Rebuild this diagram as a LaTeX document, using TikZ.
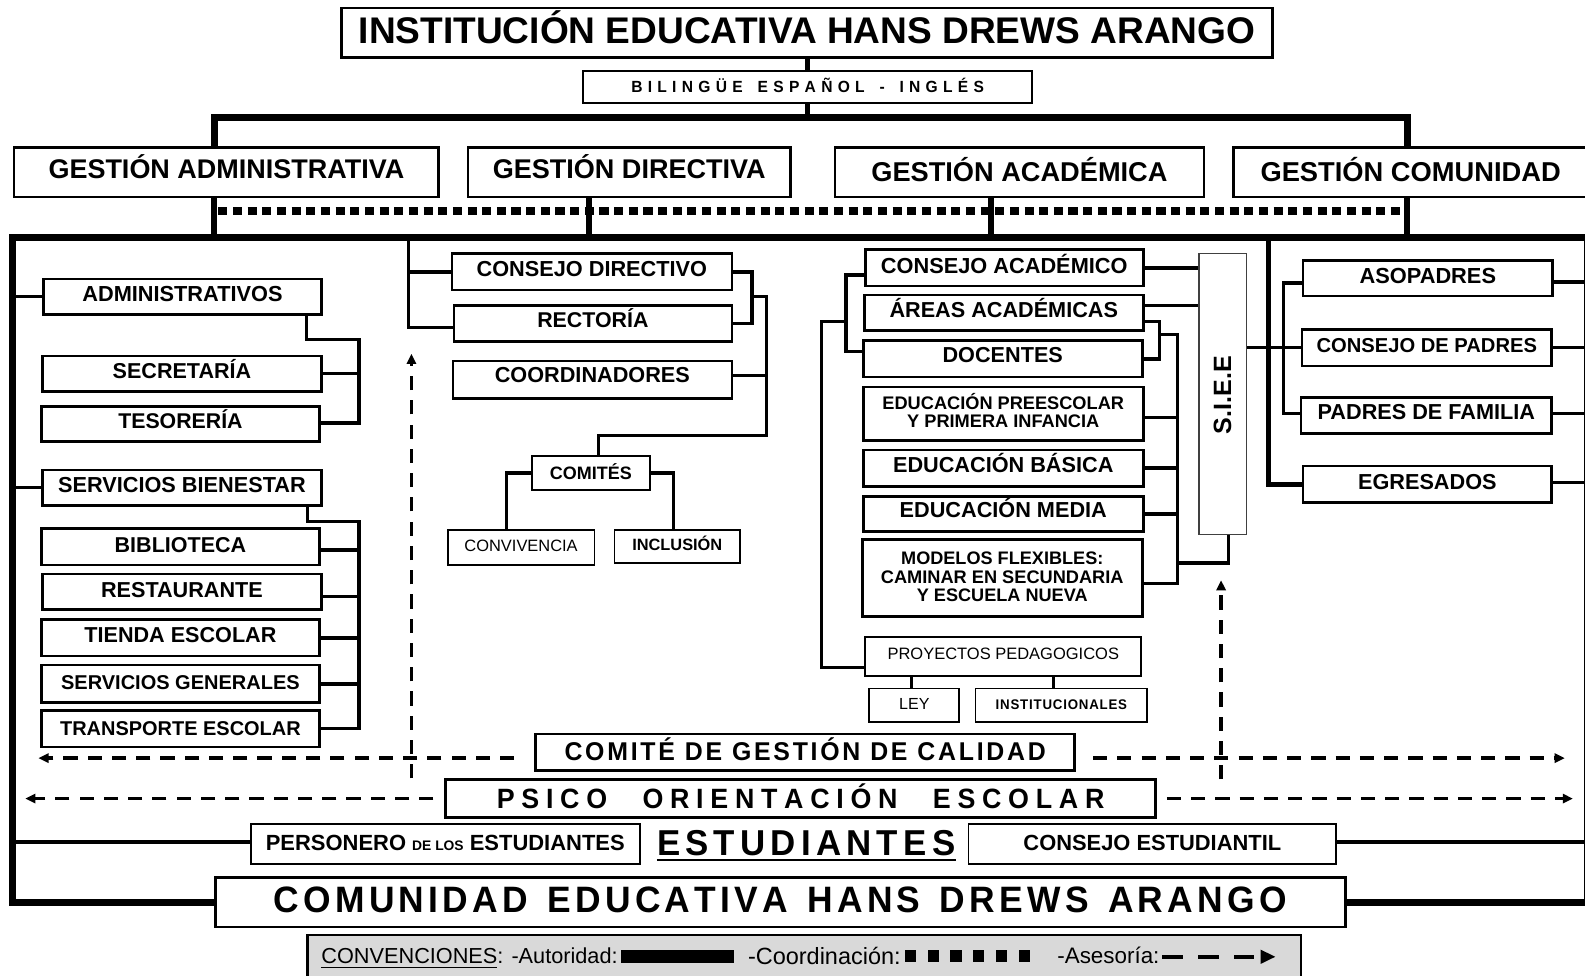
\documentclass[tikz,border=0pt]{standalone}
\usepackage{fontspec}
\setmainfont{Liberation Sans}
\usepackage{graphicx}
\usetikzlibrary{arrows.meta}
\makeatletter
\newcommand\lsw[2]{\def\lsw@k{#1}\@tfor\lsw@t:=#2\do{\lsw@t\kern\lsw@k}\unkern}
\makeatother
\newcommand\fw[2]{\resizebox{#1pt}{!}{\smash{#2}\vphantom{H}}}
\newcommand\fwh[3]{\resizebox{#1pt}{#2pt}{\smash{#3}\vphantom{H}}}
\newcommand\up[2]{\raisebox{#1pt}[\height][\depth]{#2}}
\newcommand\rows[1]{{\renewcommand\arraystretch{0}\begin{tabular}{@{}c@{}}#1\end{tabular}}}
\begin{document}
\begin{tikzpicture}[x=1pt,y=-1pt,
  box/.style={draw, line width=2.6pt, inner sep=0pt, font=\bfseries},
  tbox/.style={draw, line width=1.7pt, inner sep=0pt, font=\bfseries},
  corners/.style args={#1/#2/#3/#4}{minimum width={#3-#1}, minimum height={#4-#2}, at={({(#1+#3)/2},{(#2+#4)/2})}},
  conn/.style={line width=3.3pt},
  authl/.style={line width=7pt},
  vert/.style={line width=6pt},
  framel/.style={line width=7pt, line join=miter},
  coordl/.style={line width=7.5pt, dash pattern=on 9pt off 5.5pt},
  asel/.style={line width=3.5pt, dash pattern=on 14pt off 10pt, -{Triangle[length=10pt,width=9pt]}}]
\useasboundingbox (0,0) rectangle (1568,964.6);

% ---------- top ----------
\node[box, corners=338/8/1259/57] (title) {\up{2}{\fw{887}{INSTITUCIÓN EDUCATIVA HANS DREWS ARANGO}}};
\node[box, line width=2.2pt, corners=577/70/1021/102] (bil) {\fwh{349}{11}{\lsw{0.34em}{BILINGÜE}\hspace{0.95em}\lsw{0.34em}{ESPAÑOL}\hspace{0.95em}-\hspace{0.95em}\lsw{0.34em}{INGLÉS}}};
\node[box, corners=14/146/434/195] (adm) {\up{3.5}{\fw{352}{GESTIÓN ADMINISTRATIVA}}};
\node[box, corners=463/146/782/195] (dir) {\up{3.5}{\fw{270}{GESTIÓN DIRECTIVA}}};
\node[box, corners=826/146/1191/195] (aca) {\up{0.5}{\fw{293}{GESTIÓN ACADÉMICA}}};
\node[box, corners=1220/146/1571/195] (com) {\up{0.5}{\fw{297}{GESTIÓN COMUNIDAD}}};

% ---------- left column ----------
\node[box, corners=43/276/318/311] (admv) {\up{3}{\fw{198}{ADMINISTRATIVOS}}};
\node[box, corners=42/352/318/387] (secr) {\up{2.5}{\fw{137}{SECRETARÍA}}};
\node[box, corners=41/402/316/437] (teso) {\up{2.5}{\fw{123}{TESORERÍA}}};
\node[box, corners=42/465/318/500] (serv) {\up{3}{\fw{245}{SERVICIOS BIENESTAR}}};
\node[box, corners=41/523/316/559] (bibl) {\up{2}{\fw{130}{BIBLIOTECA}}};
\node[box, corners=42/568/318/603] (rest) {\up{2}{\fw{160}{RESTAURANTE}}};
\node[box, corners=41/613/316/649] (tien) {\up{2.5}{\fw{190}{TIENDA ESCOLAR}}};
\node[box, corners=41/658/316/695] (sgen) {\up{1.5}{\fw{236}{SERVICIOS GENERALES}}};
\node[box, corners=41/703/316/739] (tran) {\up{0.5}{\fw{238}{TRANSPORTE ESCOLAR}}};

% ---------- middle column ----------
\node[box, corners=447/251/724/287] (cd) {\up{2.5}{\fw{228}{CONSEJO DIRECTIVO}}};
\node[box, corners=449/302/724/338] (rect) {\up{3}{\fw{110}{RECTORÍA}}};
\node[box, corners=448/357/724/394] (coor) {\up{4}{\fw{193}{COORDINADORES}}};
\node[tbox, corners=526/451/643/485] (comi) {\fw{81}{COMITÉS}};
\node[tbox, font=\normalfont, corners=443/524/588/559] (conv) {\up{1.5}{\fw{112}{CONVIVENCIA}}};
\node[tbox, corners=608/524/732/557] (incl) {\up{1.5}{\fw{89}{INCLUSIÓN}}};

% ---------- academic column ----------
\node[box, corners=856/247/1131/283] (ca) {\up{2}{\fw{244}{CONSEJO ACADÉMICO}}};
\node[box, corners=855/292/1131/327] (ar) {\up{2.5}{\fw{226}{ÁREAS ACADÉMICAS}}};
\node[box, corners=854/337/1130/373] (doc) {\up{3.5}{\fw{119}{DOCENTES}}};
\node[box, corners=854/383/1131/436] (pre) {\up{1.5}{\rows{\fw{239}{EDUCACIÓN PREESCOLAR}\\[5pt]\fw{190}{Y PRIMERA INFANCIA}}}};
\node[box, corners=854/445/1131/481] (bas) {\up{2.5}{\fw{218}{EDUCACIÓN BÁSICA}}};
\node[box, corners=854/491/1131/526] (med) {\up{3.5}{\fw{205}{EDUCACIÓN MEDIA}}};
\node[box, corners=853/534/1130/610] (mod) {\up{1}{\rows{\fw{200}{MODELOS FLEXIBLES:}\\[6pt]\fw{240}{CAMINAR EN SECUNDARIA}\\[6pt]\fw{169}{Y ESCUELA NUEVA}}}};
\node[tbox, font=\normalfont, corners=856/630/1129/669] (proy) {\up{2.5}{\fw{229}{PROYECTOS PEDAGOGICOS}}};
\node[tbox, font=\normalfont, corners=860/681/949/714] (ley) {\up{1.5}{\fw{30}{LEY}}};
\node[tbox, corners=965/681/1135/714] (inst) {\up{0.5}{\fwh{130}{9.5}{\lsw{0.06em}{INSTITUCIONALES}}}};
\node[draw=black!75, line width=1.3pt, inner sep=0pt, font=\bfseries, corners=1186/251/1233/529] (siee) {\up{-1}{\rotatebox{90}{\fw{77}{S.I.E.E}}}};

% ---------- right column ----------
\node[box, corners=1289/258/1536/293] (aso) {\up{2.5}{\fw{135}{ASOPADRES}}};
\node[box, corners=1288/326/1535/362] (cdp) {\up{2}{\fw{218}{CONSEJO DE PADRES}}};
\node[box, corners=1287/393/1535/429] (pdf) {\up{3}{\fw{215}{PADRES DE FAMILIA}}};
\node[box, corners=1289/461/1535/497] (egr) {\up{2.5}{\fw{137}{EGRESADOS}}};

% ---------- bottom ----------
\node[box, corners=530/726/1063/762] (cal) {\fwh{476}{17.5}{\lsw{0.11em}{COMITÉ}\hspace{0.4em}\lsw{0.11em}{DE}\hspace{0.4em}\lsw{0.11em}{GESTIÓN}\hspace{0.4em}\lsw{0.11em}{DE}\hspace{0.4em}\lsw{0.11em}{CALIDAD}}};
\node[box, corners=441/771/1143/809] (psi) {\fwh{601}{19}{\lsw{0.25em}{PSICO}\hspace{1.32em}\lsw{0.25em}{ORIENTACIÓN}\hspace{1.32em}\lsw{0.25em}{ESCOLAR}}};
\node[tbox, corners=248/815/633/855] (pers) {\up{1.5}{\fw{355}{PERSONERO {\fontsize{6.3}{7}\selectfont DE LOS} ESTUDIANTES}}};
\node[inner sep=0pt, font=\bfseries] (estu) at (797.5,834) {\fwh{295}{24.5}{\lsw{0.15em}{ESTUDIANTES}}};
\node[tbox, corners=958/815/1322/855] (cest) {\up{1.5}{\fw{255}{CONSEJO ESTUDIANTIL}}};
\node[box, corners=213/868/1331/917] (comu) {\up{2.5}{\fwh{1002}{25}{\lsw{0.12em}{COMUNIDAD}\hspace{0.55em}\lsw{0.12em}{EDUCATIVA}\hspace{0.55em}\lsw{0.12em}{HANS}\hspace{0.55em}\lsw{0.12em}{DREWS}\hspace{0.55em}\lsw{0.12em}{ARANGO}}}};
\draw[line width=2.5pt] ([yshift=-4.5pt]estu.south west) -- ([yshift=-4.5pt]estu.south east);

% ---------- coordinates ----------
\coordinate (topbar) at (800,116);
\coordinate (fTop) at (800,235);
\coordinate (fTL) at (12,235);
\coordinate (fTR) at (1570,235);
\coordinate (fBL) at (12,893);
\coordinate (fBR) at (1570,893);
\coordinate (fR) at (1570,600);
\coordinate (cdL) at (216,209);
\coordinate (cdR) at (1388,209);

% ---------- authority / coordination ----------
\draw[coordl] (cdL) -- (cdR);
\draw[line width=5pt] (title.south) -- (title.south |- bil.north);
\draw[line width=5pt] (bil.south) -- (bil.south |- topbar);
\draw[authl, line join=miter] ([xshift=-12pt]adm.north) |- (topbar) -| ([xshift=-3.5pt]com.north);
\foreach \n/\s in {adm/-12, dir/-39.5, aca/-28.5, com/-3.5}
  \draw[vert] ([xshift=\s pt]\n.south) -- ([xshift=\s pt]\n.south |- fTop);
\draw[framel] (comu.west |- fBL) -- (fBL) -- (fTL) -- (fTR) -- (fBR) -- (comu.east |- fBR);

% ---------- left connectors ----------
\draw[conn] (admv.west) -- (admv.west -| fBL);
\draw[conn] (serv.west) -- (serv.west -| fBL);
\coordinate (lb1) at (355,336);
\draw[conn] ([xshift=-16pt]admv.south east) |- (lb1) |- ([yshift=1pt]teso.east);
\draw[conn] (secr.east) -- (secr.east -| lb1);
\coordinate (lb2) at (355,516);
\draw[conn] ([xshift=-15pt]serv.south east) |- (lb2) |- (tran.east);
\draw[conn] ([yshift=-3pt]bibl.east) -- ([yshift=-3pt]bibl.east -| lb2);
\draw[conn] ([yshift=-4.5pt]rest.east) -- ([yshift=-4.5pt]rest.east -| lb2);
\draw[conn] (tien.east) -- (tien.east -| lb2);
\draw[conn] (sgen.east) -- (sgen.east -| lb2);

% ---------- middle connectors ----------
\coordinate (dTop) at (404,235);
\draw[conn] (dTop) |- ([yshift=-4pt]rect.west);
\draw[conn] (cd.west) -- (cd.west -| dTop);
\coordinate (dB1) at (744,293);
\coordinate (dB2) at (758,431);
\draw[conn] (cd.east) -| (dB1) |- (rect.east);
\draw[conn] (dB1) -| (dB2) -| ([xshift=7.5pt]comi.north);
\draw[conn] ([yshift=4pt]coor.east) -- ([yshift=4pt]coor.east -| dB2);
\draw[conn] (comi.west) -| ([xshift=-14.5pt]conv.north);
\draw[conn] (comi.east) -| ([xshift=-4pt]incl.north);

% ---------- academic connectors ----------
\coordinate (acL) at (837,310);
\draw[conn] ([yshift=-7pt]ca.west) -| (acL) |- ([yshift=7pt]doc.west);
\coordinate (acJ) at (837,318);
\coordinate (acL2) at (813,318);
\draw[conn] (acJ) -- (acL2) |- ([yshift=-10.5pt]proy.west);
\coordinate (arR) at (1147,331);
\draw[conn] ([yshift=-8.5pt]ar.east) -| (arR) |- (doc.east);
\coordinate (acR) at (1165,331);
\draw[conn] (arR) -- (acR) |- ([yshift=-5pt]mod.east);
\draw[conn] ([yshift=-3.5pt]pre.east) -- ([yshift=-3.5pt]pre.east -| acR);
\draw[conn] (bas.east) -- (bas.east -| acR);
\draw[conn] (med.east) -- (med.east -| acR);
\coordinate (acJ2) at (1165,557);
\draw[conn] (acJ2) -| ([xshift=5.5pt]siee.south);
\draw[conn] (ca.east) -- (ca.east -| siee.west);
\draw[conn] ([yshift=7.5pt]ar.east) -- ([yshift=7.5pt]ar.east -| siee.west);
\draw[conn] ([xshift=-2.5pt]ley.north) -- ([xshift=-2.5pt]ley.north |- proy.south);
\draw[conn] ([xshift=-8pt]inst.north) -- ([xshift=-8pt]inst.north |- proy.south);

% ---------- right connectors ----------
\draw[conn] (cdp.west -| siee.east) -- (cdp.west);
\coordinate (cTop) at (1255,235);
\draw[conn, line width=5pt] (cTop) |- (egr.west);
\coordinate (cB) at (1270,340);
\draw[conn] ([yshift=-4.5pt]aso.west) -| (cB) |- ([yshift=2pt]pdf.west);
\draw[conn] ([yshift=-3.5pt]aso.east) -- ([yshift=-3.5pt]aso.east -| fR);
\draw[conn] (cdp.east) -- (cdp.east -| fR);
\draw[conn] ([yshift=2pt]pdf.east) -- ([yshift=2pt]pdf.east -| fR);
\draw[conn] ([yshift=2pt]egr.east) -- ([yshift=2pt]egr.east -| fR);

% ---------- bottom connectors ----------
\draw[conn] ([yshift=2pt]pers.west) -- ([yshift=2pt]pers.west -| fBL);
\draw[conn] ([yshift=2pt]cest.east) -- ([yshift=2pt]cest.east -| fR);

% ---------- advisory (dashed) ----------
\coordinate (aL1) at (38,750);
\coordinate (aR1) at (1548,750);
\coordinate (aL2) at (25,790);
\coordinate (aR2) at (1556,790);
\coordinate (vL0) at (407,770);
\coordinate (vL1) at (407,350);
\coordinate (vR0) at (1208,771);
\coordinate (vR1) at (1208,574);
\draw[asel] ([xshift=-20pt,yshift=-6pt]cal.west) -- (aL1);
\draw[asel] ([xshift=17pt,yshift=-6pt]cal.east) -- (aR1);
\draw[asel] ([xshift=-11pt]psi.west) -- (aL2);
\draw[asel] ([xshift=10pt]psi.east) -- (aR2);
\draw[asel] (vL0) -- (vL1);
\draw[asel] (vR0) -- (vR1);

% ---------- legend ----------
\node[draw, line width=2.6pt, fill=black!15, inner sep=0pt, corners=304/925/1287/978] (leg) {};
\node[inner sep=0pt] (lg1) at (464.5,946) {\fw{293}{\underline{CONVENCIONES}: -Autoridad:}};
\node[inner sep=0pt] (lg2) at (815.5,946) {\fw{151}{-Coordinación:}};
\node[inner sep=0pt] (lg3) at (1096.5,946) {\fw{101}{-Asesoría:}};
\fill (614,940) rectangle (726,953);
\foreach \i in {0,...,5} \fill ({895+22.6*\i},940) rectangle ++(11,11.5);
\draw[line width=4.5pt, dash pattern=on 20pt off 15.5pt, -{Triangle[length=15pt,width=13pt]}] (1150,946.5) -- (1262,946.5);
\end{tikzpicture}
\end{document}
